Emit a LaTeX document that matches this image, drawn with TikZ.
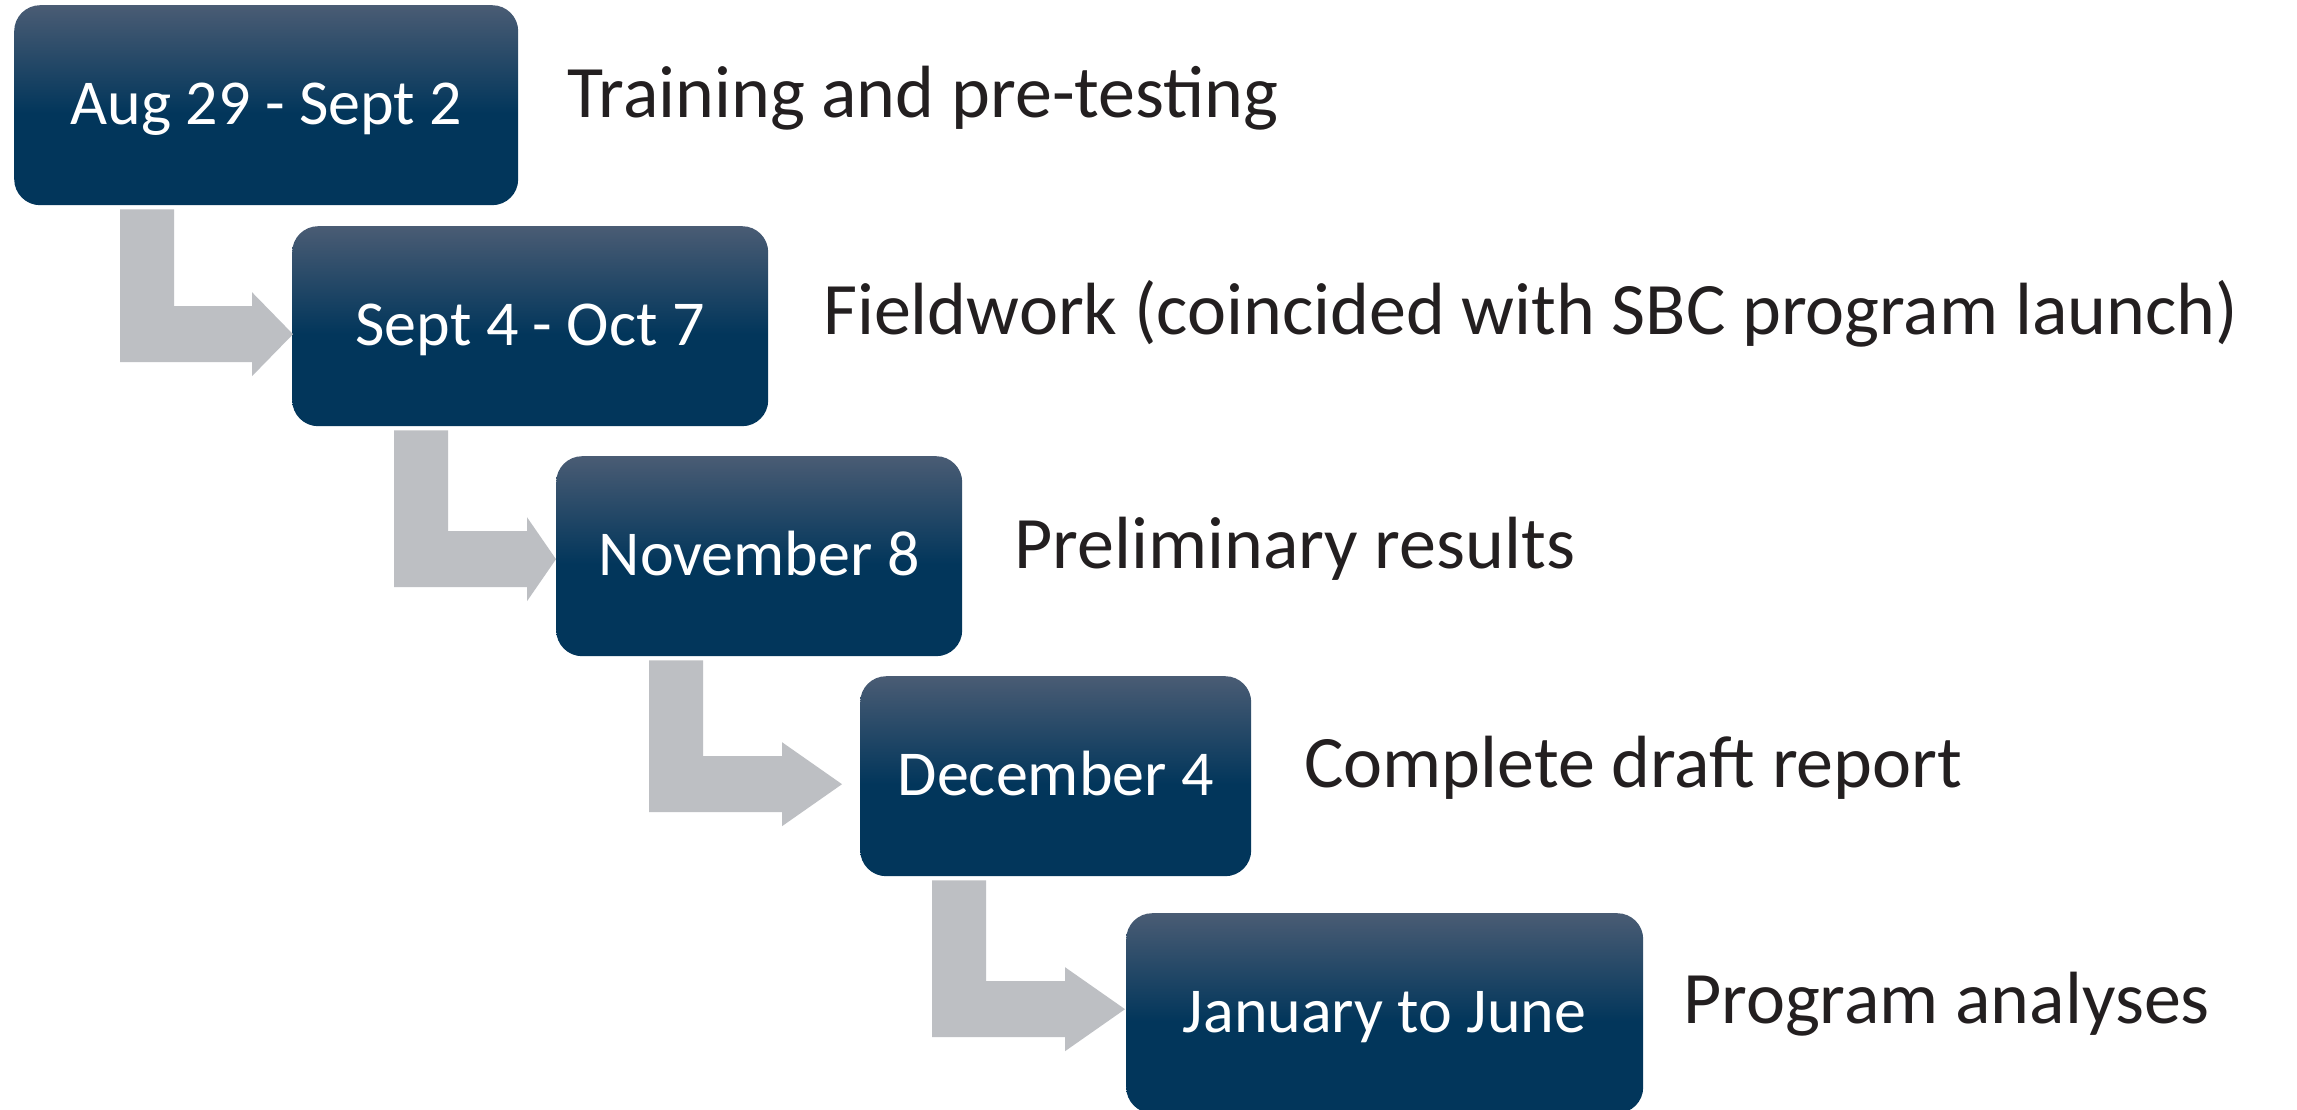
\documentclass[tikz,border=0pt]{standalone}
\usepackage{fontspec}
\setmainfont{Carlito}
\usetikzlibrary{calc}
\definecolor{navyD}{HTML}{02365B}
\definecolor{navyL}{HTML}{4A5C74}
\definecolor{elbowgrey}{HTML}{BDBFC3}
\definecolor{labelink}{HTML}{231F20}
\pgfdeclareverticalshading{navyshade}{100bp}{color(0bp)=(navyD); color(25bp)=(navyD); color(48bp)=(navyD); color(75bp)=(navyL); color(100bp)=(navyL)}
\newcommand\elbowarrow[6]{% #1 src, #2 dst, #3 bar offset, #4 head length, #5 tip dx, #6 tip dy
  \coordinate (#1s) at ($(#1.south west)+(#3,4)$);
  \coordinate (#1t) at ($(#2.west)+(#5,#6)$);
  \fill[elbow] (#1s) -- ++(54,0) |- ($(#1t)+(-#4,-28)$) -- ++(0,-14) -- (#1t)
    -- ($(#1t)+(-#4,42)$) -- ++(0,-14) -- ($(#1s |- #1t)+(0,28)$) -- cycle;}
\begin{document}
\begin{tikzpicture}[x=1pt,y=-1pt,
  datebox/.style={shading=navyshade, rounded corners=26pt, anchor=north west, inner sep=0pt,
    text=white, font=\fontsize{64pt}{76pt}\selectfont, text height=38pt, text depth=0pt,
    minimum height=200pt},
  stagelabel/.style={anchor=base west, inner sep=0pt, text=labelink,
    font=\fontsize{74pt}{88pt}\selectfont},
  elbow/.style={fill=elbowgrey}]
\fill[white] (0,0) rectangle (2297,1110);
\useasboundingbox (0,0) rectangle (2297,1110);

\node[datebox, minimum width=504pt] (b1) at (14,5) {Aug 29 - Sept 2};
\node[datebox, minimum width=476pt] (b2) at (292,226) {Sept 4 - Oct 7};
\node[datebox, minimum width=406pt] (b3) at (556,456) {November 8};
\node[datebox, minimum width=391pt] (b4) at (860,676) {December 4};
\node[datebox, minimum width=517pt] (b5) at (1126,913) {January to June};

\node[stagelabel] (l1) at (567,118) {Training and pre-testing};
\node[stagelabel] (l2) at (823,334) {Fieldwork (coincided with SBC program launch)};
\node[stagelabel] (l3) at (1014,568) {Preliminary results};
\node[stagelabel] (l4) at (1304,787) {Complete draft report};
\node[stagelabel] (l5) at (1683,1023) {Program analyses};

\elbowarrow{b1}{b2}{106}{41}{1}{8}
\elbowarrow{b2}{b3}{102}{29}{0}{3}
\elbowarrow{b3}{b4}{93}{60}{-18}{8}
\elbowarrow{b4}{b5}{72}{60}{-1}{-4}
\end{tikzpicture}
\end{document}
